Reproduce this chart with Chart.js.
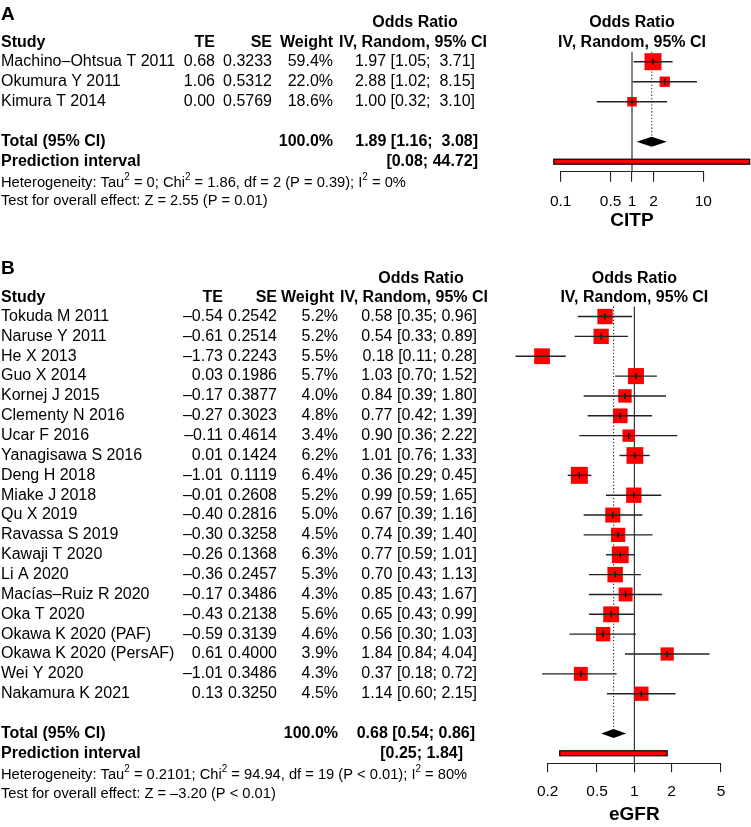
<!DOCTYPE html>
<html lang="en">
<head>
<meta charset="UTF-8">
<title>Forest plots - CITP and eGFR</title>
<script src="https://cdn.jsdelivr.net/npm/chart.js"></script>
<style>
  html, body { margin: 0; padding: 0; background: #fff; }
  #wrap { position: relative; width: 751px; height: 827px; }
  canvas { position: absolute; left: 0; }
</style>
</head>
<body>
<div id="wrap">
  <canvas id="panelA" width="751" height="235" style="top:0"></canvas>
  <canvas id="panelB" width="751" height="592" style="top:235px"></canvas>
</div>
<script>
// ---- Panel A: CITP ----
const studiesA = ['Machino\u2013Ohtsua T 2011', 'Okumura Y 2011', 'Kimura T 2014'];
const teA = [0.68, 1.06, 0.00];
const seA = [0.3233, 0.5312, 0.5769];
const weightA = [59.4, 22.0, 18.6];
const orA = [1.97, 2.88, 1.00];
const loA = [1.05, 1.02, 0.32];
const hiA = [3.71, 8.15, 3.10];
const pooledA = [1.89, 1.16, 3.08];   // estimate, lower, upper
const predA = [0.08, 44.72];
const ticksA = [0.1, 0.5, 1, 2, 10];
const hetA = ['Heterogeneity: Tau', '^2', ' = 0; Chi', '^2', ' = 1.86, df = 2 (P = 0.39); I', '^2', ' = 0%'];
const testA = 'Test for overall effect: Z = 2.55 (P = 0.01)';

// ---- Panel B: eGFR ----
const studiesB = ['Tokuda M 2011', 'Naruse Y 2011', 'He X 2013', 'Guo X 2014', 'Kornej J 2015',
  'Clementy N 2016', 'Ucar F 2016', 'Yanagisawa S 2016', 'Deng H 2018', 'Miake J 2018',
  'Qu X 2019', 'Ravassa S 2019', 'Kawaji T 2020', 'Li A 2020', 'Mac\u00edas\u2013Ruiz R 2020',
  'Oka T 2020', 'Okawa K 2020 (PAF)', 'Okawa K 2020 (PersAF)', 'Wei Y 2020', 'Nakamura K 2021'];
const teB = [-0.54, -0.61, -1.73, 0.03, -0.17, -0.27, -0.11, 0.01, -1.01, -0.01,
  -0.40, -0.30, -0.26, -0.36, -0.17, -0.43, -0.59, 0.61, -1.01, 0.13];
const seB = [0.2542, 0.2514, 0.2243, 0.1986, 0.3877, 0.3023, 0.4614, 0.1424, 0.1119, 0.2608,
  0.2816, 0.3258, 0.1368, 0.2457, 0.3486, 0.2138, 0.3139, 0.4000, 0.3486, 0.3250];
const weightB = [5.2, 5.2, 5.5, 5.7, 4.0, 4.8, 3.4, 6.2, 6.4, 5.2, 5.0, 4.5, 6.3, 5.3, 4.3, 5.6, 4.6, 3.9, 4.3, 4.5];
const orB = [0.58, 0.54, 0.18, 1.03, 0.84, 0.77, 0.90, 1.01, 0.36, 0.99, 0.67, 0.74, 0.77, 0.70, 0.85, 0.65, 0.56, 1.84, 0.37, 1.14];
const loB = [0.35, 0.33, 0.11, 0.70, 0.39, 0.42, 0.36, 0.76, 0.29, 0.59, 0.39, 0.39, 0.59, 0.43, 0.43, 0.43, 0.30, 0.84, 0.18, 0.60];
const hiB = [0.96, 0.89, 0.28, 1.52, 1.80, 1.39, 2.22, 1.33, 0.45, 1.65, 1.16, 1.40, 1.01, 1.13, 1.67, 0.99, 1.03, 4.04, 0.72, 2.15];
const pooledB = [0.68, 0.54, 0.86];
const predB = [0.25, 1.84];
const ticksB = [0.2, 0.5, 1, 2, 5];
const hetB = ['Heterogeneity: Tau', '^2', ' = 0.2101; Chi', '^2', ' = 94.94, df = 19 (P < 0.01); I', '^2', ' = 80%'];
const testB = 'Test for overall effect: Z = \u20133.20 (P < 0.01)';

const FONT = 'Arial, "Liberation Sans", Helvetica, sans-serif';

function num(v) { return (v < 0 ? '\u2013' : '') + Math.abs(v).toFixed(2); }
function ci(lo, hi, w) { return '[' + lo.toFixed(2) + '; ' + hi.toFixed(2).padStart(w, ' ') + ']'; }

function drawParts(ctx, parts, x, y, size) {
  let cx = x;
  parts.forEach(part => {
    const sup = part.startsWith('^');
    const t = sup ? part.slice(1) : part;
    ctx.font = (sup ? size * 0.68 : size) + 'px ' + FONT;
    ctx.fillText(t, cx, sup ? y - size * 0.4 : y);
    cx += ctx.measureText(t).width;
  });
}

function forestPlugin(p) {
  return {
    id: 'forest' + p.letter,
    beforeDatasetsDraw(chart) {
      const { ctx, chartArea: a, scales: { x, y } } = chart;
      ctx.save();
      ctx.strokeStyle = '#222';
      ctx.lineWidth = 1.1;
      const x1 = x.getPixelForValue(1);
      ctx.beginPath(); ctx.moveTo(x1, a.top); ctx.lineTo(x1, a.bottom); ctx.stroke();
      // pooled estimate, dotted
      const xp = x.getPixelForValue(p.pooled[0]);
      ctx.setLineDash([1.3, 2]);
      ctx.strokeStyle = '#333';
      ctx.beginPath(); ctx.moveTo(xp, a.top); ctx.lineTo(xp, y.getPixelForValue(p.rowTotal) - p.lay.diamondH); ctx.stroke();
      ctx.restore();
    },
    afterDatasetsDraw(chart) {
      const { ctx, scales: { x, y } } = chart;
      ctx.save();
      // confidence intervals
      ctx.strokeStyle = '#222';
      ctx.lineWidth = 1.4;
      p.studies.forEach((s, i) => {
        const yy = y.getPixelForValue(i);
        ctx.beginPath();
        ctx.moveTo(x.getPixelForValue(p.lo[i]), yy);
        ctx.lineTo(x.getPixelForValue(p.hi[i]), yy);
        ctx.stroke();
      });
      // pooled diamond
      const yt = y.getPixelForValue(p.rowTotal), h = p.lay.diamondH;
      ctx.fillStyle = '#000';
      ctx.beginPath();
      ctx.moveTo(x.getPixelForValue(p.pooled[1]), yt);
      ctx.lineTo(x.getPixelForValue(p.pooled[0]), yt - h);
      ctx.lineTo(x.getPixelForValue(p.pooled[2]), yt);
      ctx.lineTo(x.getPixelForValue(p.pooled[0]), yt + h);
      ctx.closePath();
      ctx.fill();
      // prediction interval bar
      const ypr = y.getPixelForValue(p.rowPred);
      const xl = x.getPixelForValue(p.pred[0]), xr = x.getPixelForValue(p.pred[1]);
      ctx.fillStyle = '#ff0000';
      ctx.fillRect(xl, ypr - 2.5, xr - xl, 5);
      ctx.strokeStyle = '#000';
      ctx.lineWidth = 1.2;
      ctx.strokeRect(xl, ypr - 2.5, xr - xl, 5);
      ctx.restore();
    },
    afterDraw(chart) {
      const { ctx, scales: { x, y } } = chart;
      const c = p.lay.cols;
      const row = r => y.getPixelForValue(r);
      ctx.save();
      ctx.fillStyle = '#000';
      ctx.textBaseline = 'middle';
      // panel letter
      ctx.font = 'bold 19px ' + FONT;
      ctx.textAlign = 'left';
      ctx.fillText(p.letter, 1, p.lay.letterY);
      // headers
      const hd = p.lay.headOffset;
      ctx.font = 'bold 16px ' + FONT;
      ctx.textAlign = 'center';
      ctx.fillText('Odds Ratio', c.orHead, row(-2) + hd);
      ctx.fillText('IV, Random, 95% CI', c.ivHead, row(-1) + hd);
      ctx.fillText('Odds Ratio', x.getPixelForValue(1), row(-2) + hd);
      ctx.fillText('IV, Random, 95% CI', x.getPixelForValue(1), row(-1) + hd);
      ctx.textAlign = 'left';
      ctx.fillText('Study', 1, row(-1) + hd);
      ctx.textAlign = 'right';
      ctx.fillText('TE', c.te, row(-1) + hd);
      ctx.fillText('SE', c.se, row(-1) + hd);
      ctx.fillText('Weight', c.wHead, row(-1) + hd);
      // study rows
      ctx.font = '16px ' + FONT;
      p.studies.forEach((s, i) => {
        const yy = row(i);
        ctx.textAlign = 'left';
        ctx.fillText(s, 1, yy);
        ctx.textAlign = 'right';
        ctx.fillText(num(p.te[i]), c.te, yy);
        ctx.fillText(p.se[i].toFixed(4), c.se, yy);
        ctx.fillText(p.weight[i].toFixed(1) + '%', c.w, yy);
        ctx.fillText(p.or[i].toFixed(2) + ' ' + ci(p.lo[i], p.hi[i], p.hiWidth), c.or, yy);
      });
      // totals
      ctx.font = 'bold 16px ' + FONT;
      ctx.textAlign = 'left';
      ctx.fillText('Total (95% CI)', 1, row(p.rowTotal));
      ctx.fillText('Prediction interval', 1, row(p.rowPred));
      ctx.textAlign = 'right';
      ctx.fillText('100.0%', c.w, row(p.rowTotal));
      ctx.fillText(p.pooled[0].toFixed(2) + ' ' + ci(p.pooled[1], p.pooled[2], p.hiWidth), c.orTot, row(p.rowTotal));
      ctx.fillText(ci(p.pred[0], p.pred[1], 0), c.pred, row(p.rowPred));
      // heterogeneity
      ctx.textAlign = 'left';
      drawParts(ctx, p.het, 1, row(p.rowPred) + p.lay.hetDy, 14.7);
      ctx.font = '14.7px ' + FONT;
      ctx.fillText(p.test, 1, row(p.rowPred) + p.lay.testDy);
      ctx.restore();
    }
  };
}

function makeForest(canvasId, p) {
  const maxW = Math.max(...p.weight);
  const side = w => p.lay.squareMax * Math.sqrt(w / maxW);
  return new Chart(document.getElementById(canvasId), {
    type: 'scatter',
    data: {
      datasets: [
        {
          label: 'ticks',
          data: p.or.map((v, i) => ({ x: v, y: i })),
          pointStyle: 'line',
          rotation: 90,
          pointRadius: 3,
          borderColor: '#000',
          borderWidth: 1.3,
          clip: false
        },
        {
          label: 'studies',
          data: p.or.map((v, i) => ({ x: v, y: i })),
          pointStyle: 'rect',
          pointRadius: c => side(p.weight[c.dataIndex]) / Math.SQRT2,
          backgroundColor: '#ff0000',
          borderWidth: 0,
          clip: false
        }
      ]
    },
    options: {
      responsive: false,
      animation: false,
      events: [],
      layout: { padding: p.lay.padding },
      plugins: { legend: { display: false }, tooltip: { enabled: false } },
      scales: {
        x: {
          type: 'logarithmic',
          position: 'bottom',
          min: p.ticks[0],
          max: p.ticks[p.ticks.length - 1],
          afterBuildTicks: s => { s.ticks = p.ticks.map(v => ({ value: v })); },
          afterFit: s => { s.height = p.lay.axisH; },
          ticks: {
            autoSkip: false, maxRotation: 0, minRotation: 0,
            padding: p.lay.tickPad, color: '#000',
            font: { family: FONT, size: 15.5 },
            callback: v => String(v)
          },
          grid: { display: true, drawOnChartArea: false, drawTicks: true, tickLength: p.lay.tickLen, color: '#222', lineWidth: 1.1 },
          border: { display: true, color: '#222', width: 1.1 },
          title: { display: true, text: p.axisTitle, color: '#000', font: { family: FONT, size: 19, weight: 'bold' }, padding: { top: 0, bottom: 0 } }
        },
        y: { type: 'linear', min: -0.5, max: p.nRows - 0.5, reverse: true, display: false }
      }
    },
    plugins: [forestPlugin(p)]
  });
}

makeForest('panelA', {
  letter: 'A', axisTitle: 'CITP', ticks: ticksA,
  studies: studiesA, te: teA, se: seA, weight: weightA, or: orA, lo: loA, hi: hiA,
  pooled: pooledA, pred: predA, het: hetA, test: testA,
  rowTotal: 4, rowPred: 5, nRows: 6, hiWidth: 5,
  lay: {
    padding: { left: 560.7, right: 47.7, top: 51.7, bottom: 2.6 },
    axisH: 60.7, tickLen: 10, tickPad: 11, letterY: 15, headOffset: 1.3,
    hetDy: 21, testDy: 39.5, squareMax: 17, diamondH: 5,
    cols: { te: 215, se: 272, w: 333, wHead: 333, or: 475, orTot: 478, pred: 478, orHead: 415, ivHead: 413 }
  }
});

makeForest('panelB', {
  letter: 'B', axisTitle: 'eGFR', ticks: ticksB,
  studies: studiesB, te: teB, se: seB, weight: weightB, or: orB, lo: loB, hi: hiB,
  pooled: pooledB, pred: predB, het: hetB, test: testB,
  rowTotal: 21, rowPred: 22, nRows: 23, hiWidth: 4,
  lay: {
    padding: { left: 547.7, right: 30, top: 71.6, bottom: 0.6 },
    axisH: 63.2, tickLen: 9, tickPad: 10, letterY: 33.5, headOffset: 1.3,
    hetDy: 22, testDy: 41, squareMax: 17, diamondH: 4.5,
    cols: { te: 223, se: 277, w: 338, wHead: 334, or: 477, orTot: 475, pred: 463, orHead: 421, ivHead: 414 }
  }
});
</script>
</body>
</html>
